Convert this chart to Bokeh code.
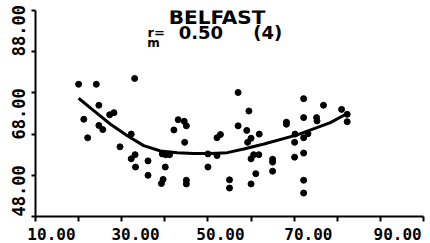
from bokeh.plotting import figure
from bokeh.models import Range1d, FixedTicker, Label
from bokeh.embed import file_html
from bokeh.resources import INLINE

# ---- data ----
x_vals = [20.0, 24.1, 33.0, 24.7, 21.2, 27.2, 28.2, 24.7, 25.6, 22.1,
          32.2, 29.6, 33.1, 32.2, 33.2, 36.1, 36.1, 39.4, 40.2, 41.1,
          40.1, 39.6, 39.2, 43.1, 44.5, 45.0, 42.1, 44.6, 45.0, 45.0,
          50.0, 50.0, 52.1, 52.9, 52.1, 55.0, 55.0, 57.0, 59.5, 57.0,
          59.0, 61.9, 60.0, 59.2, 60.0, 61.1, 60.0, 60.6, 61.8, 65.0,
          65.0, 65.0, 68.2, 68.2, 72.2, 76.8, 72.2, 75.2, 75.3, 81.0,
          82.3, 82.3, 70.2, 73.2, 72.2, 70.1, 70.1, 72.2, 72.2, 72.2]
y_vals = [80.1, 80.1, 81.5, 75.0, 71.6, 72.7, 73.2, 70.1, 69.1, 67.1,
          68.0, 64.9, 63.0, 62.0, 60.0, 61.5, 58.0, 63.2, 63.0, 63.0,
          60.0, 57.0, 56.0, 71.5, 71.1, 70.0, 69.0, 66.0, 56.8, 55.9,
          63.2, 60.0, 67.1, 67.9, 62.8, 56.9, 54.9, 78.1, 73.6, 70.0,
          68.9, 68.0, 67.0, 66.0, 62.0, 58.4, 55.9, 63.0, 63.0, 61.9,
          61.2, 59.0, 70.9, 70.4, 76.6, 75.0, 72.0, 72.0, 71.2, 74.0,
          72.8, 71.0, 68.0, 68.1, 67.1, 66.0, 62.4, 63.4, 56.8, 53.7]

curve_x = [20.0, 23.5, 27.4, 31.3, 35.1, 39.0, 42.9, 46.7, 50.6, 54.5, 58.3, 63.0, 70.7, 78.4, 82.3]
curve_y = [76.7, 73.7, 70.4, 67.6, 65.2, 63.9, 63.5, 63.3, 63.3, 63.5, 64.4, 65.6, 67.8, 70.8, 73.0]

x_tick_labels = ["10.00", "30.00", "50.00", "70.00", "90.00"]
y_tick_labels = ["48.00", "68.00", "88.00"]
x_minor = [10, 20, 30, 40, 50, 60, 70, 80, 90, 100]
y_minor = [48, 58, 68, 78, 88, 98]

title_text = "BELFAST"
stat_value = "0.50"
stat_order = "(4)"

# label placement (the original prints labels offset from their ticks)
x_label_pos = [13.7, 33.2, 52.9, 73.3, 94.0]
y_label_pos = [54.2, 72.9, 93.1]

p = figure(width=430, height=243, output_backend="svg", toolbar_location=None,
           x_range=Range1d(10, 100), y_range=Range1d(48, 98),
           min_border_left=35, min_border_right=7, min_border_top=10,
           min_border_bottom=27)
p.outline_line_color = None
p.xgrid.visible = False
p.ygrid.visible = False
p.background_fill_color = "white"
p.border_fill_color = "white"

xa = p.xaxis[0]
xa.ticker = FixedTicker(ticks=x_label_pos, minor_ticks=x_minor)
xa.major_label_overrides = {pos: lab for pos, lab in zip(x_label_pos, x_tick_labels)}
xa.major_tick_in = 0
xa.major_tick_out = 0
xa.minor_tick_in = 0
xa.minor_tick_out = 5
xa.minor_tick_line_width = 2
xa.minor_tick_line_color = "black"
xa.axis_line_width = 2
xa.axis_line_color = "black"
xa.major_label_standoff = 6
xa.major_label_text_font = "DejaVu Sans Mono"
xa.major_label_text_font_style = "bold"
xa.major_label_text_font_size = "16px"
xa.major_label_text_color = "black"

ya = p.yaxis[0]
ya.ticker = FixedTicker(ticks=y_label_pos, minor_ticks=y_minor)
ya.major_label_overrides = {pos: lab for pos, lab in zip(y_label_pos, y_tick_labels)}
ya.major_tick_in = 0
ya.major_tick_out = 0
ya.minor_tick_in = 0
ya.minor_tick_out = 4
ya.minor_tick_line_width = 2
ya.minor_tick_line_color = "black"
ya.axis_line_width = 2
ya.axis_line_color = "black"
ya.major_label_standoff = 6
ya.major_label_orientation = "vertical"
ya.major_label_text_font = "DejaVu Sans Mono"
ya.major_label_text_font_style = "bold"
ya.major_label_text_font_size = "17px"
ya.major_label_text_color = "black"

p.scatter(x_vals, y_vals, size=6, color="black")
p.line(curve_x, curve_y, line_width=3, color="black")

font = "DejaVu Sans"
p.add_layout(Label(x=52.1, y=96.4, text=title_text, text_align="center",
                   text_baseline="alphabetic", text_font=font, text_font_style="bold",
                   text_font_size="20px", text_color="black"))
p.add_layout(Label(x=36.0, y=92.6, text="r=", text_align="left",
                   text_baseline="alphabetic", text_font=font, text_font_style="bold",
                   text_font_size="13px", text_color="black"))
p.add_layout(Label(x=35.9, y=90.0, text="m", text_align="left",
                   text_baseline="alphabetic", text_font=font, text_font_style="bold",
                   text_font_size="12px", text_color="black"))
p.add_layout(Label(x=43.2, y=92.6, text=stat_value, text_align="left",
                   text_baseline="alphabetic", text_font=font, text_font_style="bold",
                   text_font_size="18px", text_color="black"))
p.add_layout(Label(x=60.5, y=92.6, text=stat_order, text_align="left",
                   text_baseline="alphabetic", text_font=font, text_font_style="bold",
                   text_font_size="18px", text_color="black"))

open("out.html", "w").write(file_html(p, INLINE))
